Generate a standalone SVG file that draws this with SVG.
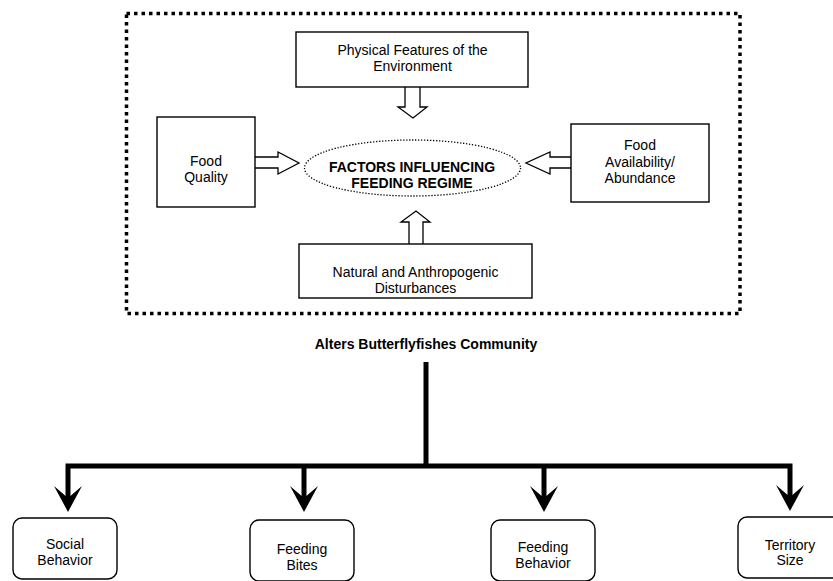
<svg xmlns="http://www.w3.org/2000/svg" xmlns:xlink="http://www.w3.org/1999/xlink" width="833" height="581" viewBox="0 0 833 581">
<style>
text{font-family:"Liberation Sans",Arial,sans-serif;font-size:14px;fill:#000;text-anchor:middle}
.b{font-weight:bold}
.box{fill:#fff;stroke:#000;stroke-width:1.4}
.rbox{fill:#fff;stroke:#000;stroke-width:1.4}
.blk{fill:#fff;stroke:#000;stroke-width:1.3;stroke-linejoin:miter}
.thick{fill:none;stroke:#000;stroke-width:5;stroke-linejoin:miter;stroke-linecap:butt}
</style>
<defs>
<path id="ah" d="M-14,-26 L0,0 L14,-26 L0,-14 Z" fill="#000"/>
</defs>
<rect width="833" height="581" fill="#fff"/>
<g id="frame">
<rect x="126.5" y="13.5" width="613.5" height="300" fill="none" stroke="#000" stroke-width="3.5" stroke-dasharray="3.5 4"/>
</g>
<g id="arrows-in">
<path class="blk" d="M405,87 L405,107 L398,107 L413,118 L427,107 L420,107 L420,87"/>
<path class="blk" d="M409,244 L409,222 L401,222 L416,211 L430,222 L423,222 L423,244"/>
<path class="blk" d="M255,157 L278,157 L278,152 L299,163 L278,174 L278,168 L255,168"/>
<path class="blk" d="M571,157 L550,157 L550,152 L526,163 L550,174 L550,168 L571,168"/>
</g>
<g id="physical">
<rect class="box" x="296" y="32" width="232" height="55"/>
<text x="412.5" y="55">Physical Features of the</text>
<text x="412.5" y="71">Environment</text>
</g>
<g id="foodquality">
<rect class="box" x="157" y="117" width="98" height="90"/>
<text x="206" y="166">Food</text>
<text x="206" y="182">Quality</text>
</g>
<g id="foodavail">
<rect class="box" x="571" y="124" width="138" height="78"/>
<text x="640" y="150">Food</text>
<text x="640" y="166.5">Availability/</text>
<text x="640" y="183">Abundance</text>
</g>
<g id="natural">
<rect class="box" x="299" y="244" width="233" height="54"/>
<text x="415.5" y="277">Natural and Anthropogenic</text>
<text x="415.5" y="293">Disturbances</text>
</g>
<g id="center">
<ellipse cx="412.5" cy="168" rx="108" ry="28" fill="#fff" stroke="#000" stroke-width="1.3" stroke-dasharray="1.3 1.7"/>
<text class="b" x="412" y="172">FACTORS INFLUENCING</text>
<text class="b" x="412" y="188">FEEDING REGIME</text>
</g>
<g id="alters">
<text class="b" x="426" y="349">Alters Butterflyfishes Community</text>
</g>
<g id="connectors">
<path class="thick" d="M426,362 L426,466"/>
<path class="thick" d="M68,498 L68,466 L790,466 L790,498"/>
<path class="thick" d="M304,466 L304,498"/>
<path class="thick" d="M544,466 L544,498"/>
<use xlink:href="#ah" x="68" y="512"/>
<use xlink:href="#ah" x="304" y="512"/>
<use xlink:href="#ah" x="544" y="512"/>
<use xlink:href="#ah" x="790" y="511"/>
</g>
<g id="social">
<rect class="rbox" x="13" y="518" width="104" height="61" rx="9"/>
<text x="65" y="549">Social</text>
<text x="65" y="565">Behavior</text>
</g>
<g id="bites">
<rect class="rbox" x="250" y="520" width="104" height="61" rx="9"/>
<text x="302" y="554">Feeding</text>
<text x="302" y="570">Bites</text>
</g>
<g id="fbehavior">
<rect class="rbox" x="491" y="520" width="104" height="61" rx="9"/>
<text x="543" y="552">Feeding</text>
<text x="543" y="568">Behavior</text>
</g>
<g id="territory">
<rect class="rbox" x="738" y="517" width="104" height="61" rx="9"/>
<text x="790" y="550">Territory</text>
<text x="790" y="565">Size</text>
</g>
</svg>
